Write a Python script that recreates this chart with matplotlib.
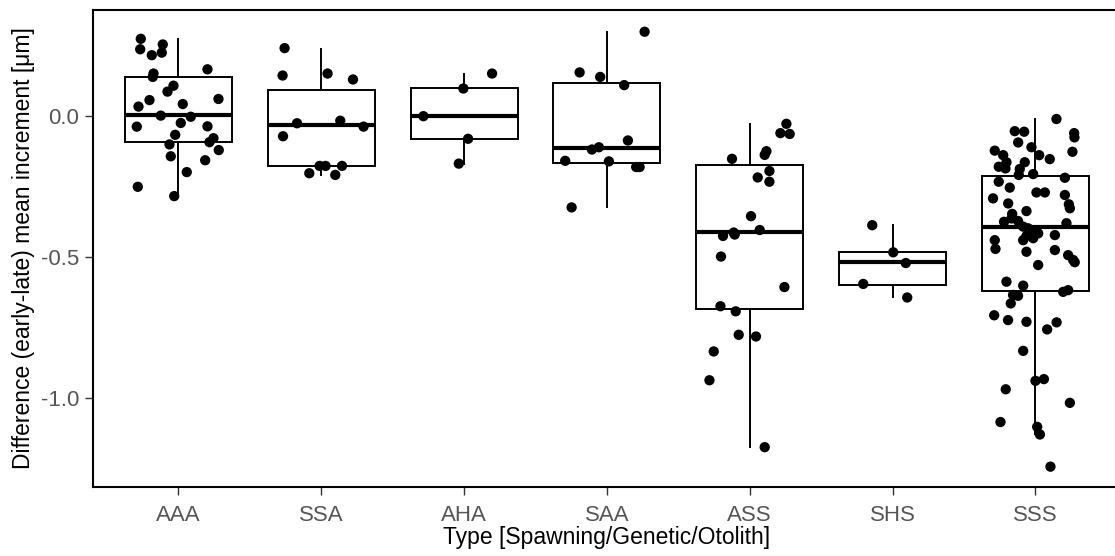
import matplotlib
matplotlib.use("Agg")
import matplotlib.pyplot as plt

# ---------------- data ----------------
categories = ["AAA", "SSA", "AHA", "SAA", "ASS", "SHS", "SSS"]

aaa_values = [0.272, 0.235, 0.252, 0.223, 0.214, 0.149, 0.137, 0.164, 0.106, 0.085,
              0.055, 0.032, 0.041, 0.059, 0.000, -0.004, -0.026, -0.039, -0.038, -0.068,
              -0.102, -0.080, -0.094, -0.122, -0.144, -0.158, -0.200, -0.252, -0.285]
aaa_jitter = [-0.264, -0.268, -0.110, -0.117, -0.187, -0.175, -0.180, 0.203, -0.035, -0.077,
              -0.203, -0.280, 0.030, 0.280, -0.124, 0.086, 0.016, -0.292, 0.203, -0.023,
              -0.063, 0.245, 0.217, 0.282, -0.054, 0.187, 0.058, -0.285, -0.030]

ssa_values = [0.239, 0.142, 0.149, 0.128, -0.027, -0.018, -0.039, -0.073, -0.178, -0.178,
              -0.178, -0.204, -0.210]
ssa_jitter = [-0.257, -0.271, 0.044, 0.222, -0.170, 0.133, 0.296, -0.268, -0.012, 0.030,
              0.145, -0.084, 0.098]

aha_values = [0.149, 0.096, -0.002, -0.082, -0.170]
aha_jitter = [0.196, -0.005, -0.285, 0.028, -0.037]

saa_values = [0.297, 0.153, 0.137, 0.108, -0.088, -0.120, -0.112, -0.160, -0.162, -0.182,
              -0.182, -0.325]
saa_jitter = [0.264, -0.191, -0.047, 0.121, 0.147, -0.105, -0.056, -0.292, 0.014, 0.205,
              0.229, -0.247]

ass_values = [-0.029, -0.062, -0.065, -0.126, -0.139, -0.153, -0.196, -0.219, -0.234, -0.356,
              -0.414, -0.426, -0.421, -0.405, -0.499, -0.607, -0.675, -0.693, -0.776, -0.782,
              -0.835, -0.937, -1.174]
ass_jitter = [0.257, 0.215, 0.280, 0.117, 0.105, -0.124, 0.138, 0.056, 0.138, 0.009,
              -0.112, -0.187, -0.105, 0.070, -0.201, 0.243, -0.205, -0.098, -0.077, 0.044,
              -0.252, -0.282, 0.105]

shs_values = [-0.388, -0.484, -0.522, -0.596, -0.644]
shs_jitter = [-0.142, 0.005, 0.093, -0.205, 0.103]

sss_values = [-0.012, -0.055, -0.057, -0.062, -0.077, -0.095, -0.112, -0.128, -0.124, -0.140,
              -0.140, -0.154, -0.165, -0.165, -0.181, -0.187, -0.189, -0.210, -0.207, -0.220,
              -0.234, -0.255, -0.272, -0.272, -0.281, -0.293, -0.311, -0.314, -0.328, -0.338,
              -0.348, -0.364, -0.376, -0.373, -0.381, -0.393, -0.399, -0.411, -0.417, -0.423,
              -0.441, -0.441, -0.434, -0.426, -0.472, -0.482, -0.476, -0.494, -0.511, -0.519,
              -0.529, -0.588, -0.602, -0.624, -0.618, -0.635, -0.638, -0.665, -0.707, -0.724,
              -0.730, -0.757, -0.732, -0.833, -0.939, -0.933, -0.969, -1.017, -1.085, -1.102,
              -1.129, -1.243]
sss_jitter = [0.148, -0.144, -0.078, 0.272, 0.274, -0.120, -0.027, 0.260, -0.284, -0.225,
              0.027, 0.101, -0.074, -0.202, -0.256, -0.209, -0.109, -0.116, -0.015, 0.207,
              -0.256, -0.179, 0.008, 0.067, 0.207, -0.296, -0.190, 0.235, 0.242, -0.062,
              -0.162, -0.167, -0.219, -0.121, 0.218, -0.085, -0.050, -0.004, 0.020, 0.137,
              -0.284, -0.085, -0.015, -0.062, -0.279, -0.062, 0.137, 0.230, 0.265, 0.276,
              0.020, -0.202, -0.085, 0.195, 0.230, -0.156, -0.121, -0.172, -0.288, -0.191,
              -0.062, 0.083, 0.149, -0.085, 0.001, 0.060, -0.207, 0.242, -0.244, 0.013,
              0.032, 0.106]

group_values = [aaa_values, ssa_values, aha_values, saa_values, ass_values, shs_values, sss_values]
group_jitter = [aaa_jitter, ssa_jitter, aha_jitter, saa_jitter, ass_jitter, shs_jitter, sss_jitter]

# box statistics
box_whislo = [-0.285, -0.210, -0.170, -0.323, -1.174, -0.644, -1.129]
box_q1     = [-0.093, -0.177, -0.082, -0.167, -0.684, -0.599, -0.620]
box_med    = [0.002, -0.033, -0.002, -0.115, -0.411, -0.520, -0.393]
box_q3     = [0.137, 0.092, 0.097, 0.115, -0.174, -0.484, -0.214]
box_whishi = [0.270, 0.237, 0.147, 0.295, -0.030, -0.388, -0.012]

y_ticks = [0.0, -0.5, -1.0]
y_tick_labels = ["0.0", "-0.5", "-1.0"]

x_title = "Type [Spawning/Genetic/Otolith]"
y_title = "Difference (early-late) mean increment [\u03bcm]"

# ---------------- plot ----------------
plt.rcParams['font.family'] = ['Liberation Sans', 'DejaVu Sans']

W, H = 1115, 556
fig = plt.figure(figsize=(W / 100, H / 100), dpi=100)
left_px, right_px, top_px, bottom_px = 92.8, 1121, 10, 487
ax = fig.add_axes([left_px / W, 1 - bottom_px / H,
                   (right_px - left_px) / W, (bottom_px - top_px) / H])

positions = list(range(1, len(categories) + 1))
stats = []
for i, cat in enumerate(categories):
    stats.append(dict(label=cat, whislo=box_whislo[i], q1=box_q1[i], med=box_med[i],
                      q3=box_q3[i], whishi=box_whishi[i], fliers=[]))

ax.bxp(stats, positions=positions, widths=0.75, showfliers=False, showcaps=False,
       patch_artist=True,
       boxprops=dict(facecolor='white', edgecolor='black', linewidth=1.4),
       whiskerprops=dict(color='black', linewidth=1.4),
       medianprops=dict(color='black', linewidth=3.0, solid_capstyle='butt'),
       zorder=2)

for i, (vals, jit) in enumerate(zip(group_values, group_jitter)):
    xs = [positions[i] + j for j in jit]
    ax.scatter(xs, vals, s=55, color='black', edgecolors='none', zorder=3)

ax.set_xlim(0.4, 7.6)
ax.set_ylim(-1.315, 0.374)
ax.set_xticks(positions)
ax.set_xticklabels(categories)
ax.set_yticks(y_ticks)
ax.set_yticklabels(y_tick_labels)

for s in ax.spines.values():
    s.set_color('black')
    s.set_linewidth(1.5)

ax.tick_params(axis='both', direction='out', length=6, width=1.0, color='#333333',
               labelcolor='#555555', labelsize=16)
ax.tick_params(axis='x', pad=7)
ax.tick_params(axis='y', pad=4)
ax.set_xlabel(x_title, fontsize=16.5, color='black', labelpad=0)
ax.set_ylabel(y_title, fontsize=16.5, color='black', labelpad=4)

fig.savefig("out.png", dpi=100)
